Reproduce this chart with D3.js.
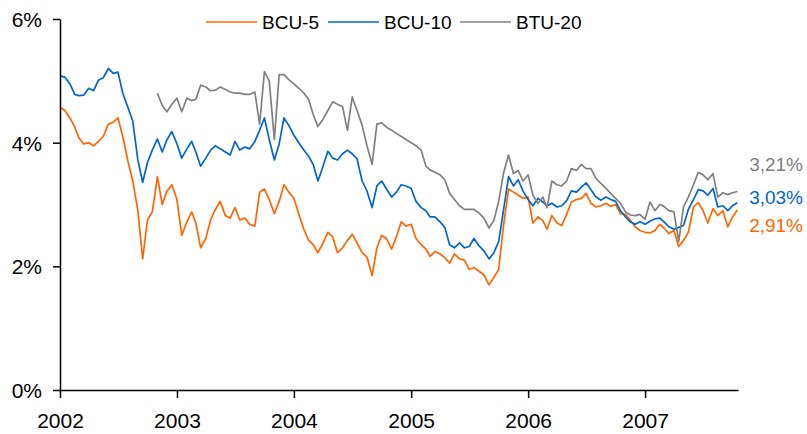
<!DOCTYPE html>
<html>
<head>
<meta charset="utf-8">
<script src="https://cdn.jsdelivr.net/npm/d3@7"></script>
<style>
  body { margin: 0; background: #fff; }
  svg { font-family: "Liberation Sans", Arial, sans-serif; }
</style>
</head>
<body>
<div id="chart"></div>
<script>
// semi-monthly observations (1st and 16th of each month), Jan 2002 .. Oct 2007
var bcu5 = [
  4.57,4.52,4.40,4.25,4.08,3.98,4.00,3.95,4.02,4.10,
  4.30,4.33,4.40,4.10,3.70,3.38,2.90,2.12,2.75,2.88,
  3.45,3.00,3.22,3.32,3.08,2.50,2.72,2.88,2.70,2.30,
  2.45,2.75,2.92,3.05,2.82,2.78,2.95,2.75,2.78,2.68,
  2.65,3.20,3.25,3.08,2.85,3.05,3.32,3.20,3.10,2.85,
  2.60,2.42,2.35,2.22,2.38,2.55,2.48,2.22,2.30,2.42,
  2.52,2.38,2.22,2.15,1.85,2.30,2.50,2.45,2.28,2.48,
  2.72,2.65,2.68,2.45,2.35,2.28,2.16,2.24,2.20,2.14,
  2.05,2.20,2.12,2.10,1.95,1.98,1.92,1.86,1.70,1.82,
  1.95,2.65,3.25,3.20,3.15,3.10,3.12,2.70,2.80,2.74,
  2.60,2.82,2.70,2.66,2.84,3.04,3.08,3.10,3.18,3.02,
  2.96,2.98,3.02,2.97,3.00,2.85,2.84,2.75,2.64,2.58,
  2.55,2.54,2.58,2.68,2.62,2.53,2.58,2.32,2.42,2.55,
  2.96,3.03,2.90,2.70,2.93,2.82,2.90,2.64,2.80,2.91
];
var bcu10 = [
  5.08,5.06,4.95,4.78,4.76,4.77,4.88,4.84,5.01,5.05,
  5.20,5.12,5.14,4.80,4.57,4.35,3.72,3.36,3.68,3.88,
  4.06,3.85,4.05,4.18,3.98,3.75,3.90,4.02,3.85,3.62,
  3.75,3.88,3.95,3.90,3.85,3.80,4.02,3.88,3.93,3.90,
  4.02,4.20,4.40,4.05,3.72,3.98,4.40,4.28,4.12,4.00,
  3.88,3.78,3.65,3.38,3.62,3.86,3.75,3.72,3.82,3.88,
  3.82,3.74,3.38,3.22,2.95,3.30,3.38,3.25,3.12,3.20,
  3.32,3.30,3.26,3.05,2.95,2.90,2.80,2.80,2.72,2.63,
  2.35,2.30,2.38,2.30,2.32,2.45,2.33,2.25,2.12,2.22,
  2.40,2.90,3.45,3.30,3.40,3.22,3.08,2.98,3.10,3.04,
  2.98,3.02,2.96,2.98,3.06,3.22,3.20,3.28,3.35,3.24,
  3.12,3.07,3.12,3.08,3.05,2.90,2.80,2.72,2.68,2.72,
  2.68,2.73,2.77,2.78,2.72,2.64,2.60,2.63,2.66,2.92,
  3.08,3.24,3.22,3.15,3.26,2.96,2.98,2.90,2.98,3.03
];
// BTU-20 starts in Nov 2002 (index 20 of the semi-monthly grid)
var btu20Start = 20;
var btu20 = [
  4.80,4.60,4.50,4.62,4.72,4.50,4.72,4.68,4.70,4.93,
  4.90,4.84,4.85,4.90,4.86,4.82,4.80,4.80,4.78,4.78,
  4.82,4.30,5.15,5.00,4.05,5.10,5.10,5.02,4.95,4.88,
  4.80,4.70,4.46,4.26,4.38,4.52,4.66,4.62,4.58,4.20,
  4.74,4.52,4.28,3.95,3.65,4.30,4.32,4.25,4.20,4.15,
  4.10,4.05,4.00,3.95,3.88,3.62,3.56,3.52,3.48,3.40,
  3.18,3.08,2.98,2.92,2.92,2.92,2.86,2.78,2.62,2.74,
  3.05,3.50,3.80,3.50,3.55,3.38,3.48,3.15,3.02,3.12,
  2.95,3.38,3.32,3.30,3.38,3.58,3.55,3.65,3.58,3.58,
  3.42,3.34,3.26,3.18,3.10,3.02,2.88,2.83,2.82,2.84,
  2.76,3.04,2.90,3.00,2.97,2.90,2.88,2.40,2.96,3.12,
  3.32,3.52,3.48,3.40,3.50,3.12,3.19,3.16,3.19,3.21
];
var seriesNames = ["BCU-5", "BCU-10", "BTU-20"];
var colors = {"BCU-5": "#FF6600", "BCU-10": "#0066CC", "BTU-20": "#808080"};
var lastLabels = {"BCU-5": "2,91%", "BCU-10": "3,03%", "BTU-20": "3,21%"};
var yTicks = [0, 2, 4, 6];
var yearTicks = [2002, 2003, 2004, 2005, 2006, 2007];

var width = 807, height = 434;

function gridDate(i) {
  return new Date(2002, Math.floor(i / 2), i % 2 ? 16 : 1);
}
function toPoints(vals, start) {
  return vals.map(function(v, k) { return {date: gridDate(start + k), value: v}; });
}
var data = {
  "BCU-5": toPoints(bcu5, 0),
  "BCU-10": toPoints(bcu10, 0),
  "BTU-20": toPoints(btu20, btu20Start)
};

var svg = d3.select("#chart").append("svg")
    .attr("width", width)
    .attr("height", height);

var x = d3.scaleTime()
    .domain([new Date(2002, 0, 1), new Date(2007, 9, 18)])
    .range([60, 738]);
var y = d3.scaleLinear().domain([0, 6]).range([390, 19]);

var line = d3.line()
    .x(function(d) { return x(d.date); })
    .y(function(d) { return y(d.value); });

// lines (Excel order: later series on top)
seriesNames.forEach(function(name) {
  svg.append("path")
    .datum(data[name])
    .attr("d", line)
    .attr("fill", "none")
    .attr("stroke", colors[name])
    .attr("stroke-width", 1.7)
    .attr("stroke-linejoin", "round");
});

// axes
var yAxis = svg.append("g")
    .attr("transform", "translate(60,0)")
    .call(d3.axisLeft(y).tickValues(yTicks).tickFormat(function(d) { return d + "%"; })
      .tickSize(7).tickSizeOuter(0).tickPadding(11));
var xAxis = svg.append("g")
    .attr("transform", "translate(0,390)")
    .call(d3.axisBottom(x).tickValues(yearTicks.map(function(yr) { return new Date(yr, 0, 1); }))
      .tickFormat(d3.timeFormat("%Y")).tickSize(8).tickSizeOuter(0).tickPadding(15));

[yAxis, xAxis].forEach(function(ax) {
  ax.select(".domain").attr("stroke", "#000").attr("stroke-width", 1.5);
  ax.selectAll(".tick line").attr("stroke", "#000").attr("stroke-width", 1.5);
  ax.selectAll(".tick text").attr("fill", "#000")
    .style("font-size", "21px")
    .style("font-family", "'Liberation Sans', Arial, sans-serif");
});
yAxis.selectAll(".tick text").attr("dy", "0.36em");

// legend
var legendItems = [
  {name: "BCU-5", x: 206},
  {name: "BCU-10", x: 328},
  {name: "BTU-20", x: 460}
];
var legend = svg.append("g");
legendItems.forEach(function(item) {
  legend.append("line")
    .attr("x1", item.x).attr("x2", item.x + 51)
    .attr("y1", 22).attr("y2", 22)
    .attr("stroke", colors[item.name])
    .attr("stroke-width", 1.7);
  legend.append("text")
    .attr("x", item.x + 56)
    .attr("y", 29)
    .style("font-size", "19px")
    .attr("fill", "#000")
    .text(item.name);
});

// end-of-series labels
var endY = {"BTU-20": 171, "BCU-10": 204, "BCU-5": 232};
seriesNames.forEach(function(name) {
  svg.append("text")
    .attr("x", 803)
    .attr("y", endY[name])
    .attr("text-anchor", "end")
    .style("font-size", "19px")
    .attr("fill", colors[name])
    .text(lastLabels[name]);
});
</script>
</body>
</html>
